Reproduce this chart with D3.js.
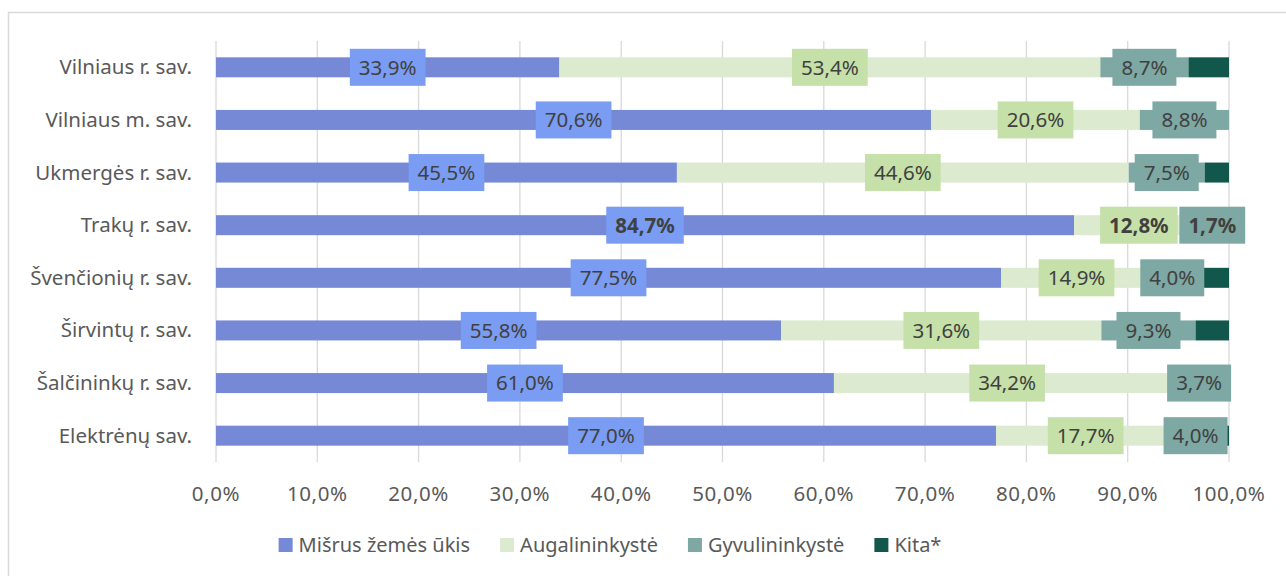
<!DOCTYPE html>
<html>
<head>
<meta charset="utf-8">
<script src="https://cdn.jsdelivr.net/npm/d3@7"></script>
<style>
  body { margin: 0; background: #fff; }
  svg text { font-family: "Noto Sans", sans-serif; }
</style>
</head>
<body>
<div id="chart"></div>
<script>
// categories and series (percent)
const categories = ['Vilniaus r. sav.', 'Vilniaus m. sav.', 'Ukmergės r. sav.', 'Trakų r. sav.',
    'Švenčionių r. sav.', 'Širvintų r. sav.', 'Šalčininkų r. sav.', 'Elektrėnų sav.'];
const seriesNames = ['Mišrus žemės ūkis', 'Augalininkystė', 'Gyvulininkystė', 'Kita*'];
const misrus = [33.9, 70.6, 45.5, 84.7, 77.5, 55.8, 61.0, 77.0];
const augal = [53.4, 20.6, 44.6, 12.8, 14.9, 31.6, 34.2, 17.7];
const gyvul = [8.7, 8.8, 7.5, 1.7, 4.0, 9.3, 3.7, 4.0];
const kita = [4.0, 0.0, 2.4, 0.8, 3.6, 3.3, 1.1, 1.3];
const boldRow = 'Trakų r. sav.';
const xTicks = [0, 10, 20, 30, 40, 50, 60, 70, 80, 90, 100];

const colors = ['#7589d6', '#dcebcf', '#7da8a3', '#12574b'];
const boxColors = ['#7a9cf2', '#c5e0a8', '#7da8a3', null];

const width = 1286, height = 576;
const svg = d3.select('#chart').append('svg')
    .attr('width', width)
    .attr('height', height);

// outer frame (only top and left edges fall inside the picture)
svg.append('rect')
    .attr('x', 8.5).attr('y', 12.5)
    .attr('width', 1300).attr('height', 600)
    .attr('fill', 'none')
    .attr('stroke', '#d9d9d9')
    .attr('stroke-width', 1.5);

const x = d3.scaleLinear().domain([0, 100]).range([216, 1229]);
const y = d3.scaleBand().domain(categories).range([41, 462]).paddingInner(0.62).paddingOuter(0.31);

// gridlines
svg.append('g')
    .selectAll('line')
    .data(xTicks)
    .join('line')
    .attr('x1', d => x(d)).attr('x2', d => x(d))
    .attr('y1', 41).attr('y2', 462)
    .attr('stroke', '#d9d9d9')
    .attr('stroke-width', 1.3);

// x tick labels
svg.append('g')
    .selectAll('text')
    .data(xTicks)
    .join('text')
    .attr('x', d => x(d))
    .attr('y', 501)
    .attr('text-anchor', 'middle')
    .attr('font-size', 20.5)
    .attr('letter-spacing', 0.6)
    .attr('fill', '#595959')
    .text(d => d.toFixed(1).replace('.', ',') + '%');

// category labels
svg.append('g')
    .selectAll('text')
    .data(categories)
    .join('text')
    .attr('x', 192)
    .attr('y', d => y(d) + y.bandwidth() / 2 + 7)
    .attr('text-anchor', 'end')
    .attr('font-size', 20.5)
    .attr('fill', '#595959')
    .text(d => d);

// stacked data
const rows = categories.map((c, i) => ({cat: c, v: [misrus[i], augal[i], gyvul[i], kita[i]]}));
const segs = [];
rows.forEach(r => {
    let acc = 0;
    r.v.forEach((v, k) => {
        segs.push({cat: r.cat, k: k, v: v, x0: acc, x1: acc + v});
        acc += v;
    });
});

svg.append('g')
    .selectAll('rect')
    .data(segs.filter(d => d.v > 0))
    .join('rect')
    .attr('x', d => x(d.x0))
    .attr('y', d => y(d.cat))
    .attr('width', d => x(d.x1) - x(d.x0))
    .attr('height', y.bandwidth())
    .attr('fill', d => colors[d.k]);

// data labels (no labels for Kita*)
const labels = svg.append('g')
    .selectAll('g')
    .data(segs.filter(d => d.k < 3))
    .join('g')
    .attr('transform', d => `translate(${x((d.x0 + d.x1) / 2)},${y(d.cat) + y.bandwidth() / 2})`);

labels.append('text')
    .attr('text-anchor', 'middle')
    .attr('dy', '0.36em')
    .attr('font-size', 20.5)
    .attr('font-weight', d => d.cat === boldRow ? 'bold' : 'normal')
    .attr('fill', '#404040')
    .text(d => d.v.toFixed(1).replace('.', ',') + '%')
    .each(function(d) { d.tw = this.getComputedTextLength(); });

labels.insert('rect', 'text')
    .attr('x', d => -d.tw / 2 - 9)
    .attr('y', -18.5)
    .attr('width', d => d.tw + 18)
    .attr('height', 37)
    .attr('fill', d => boxColors[d.k]);

// legend - laid out in a row, centred under the plot
const legend = svg.append('g');
const items = legend.selectAll('g')
    .data(seriesNames)
    .join('g');

items.append('rect')
    .attr('x', 0).attr('y', -7)
    .attr('width', 14).attr('height', 14)
    .attr('fill', (d, i) => colors[i]);

items.append('text')
    .attr('x', 20)
    .attr('dy', '0.36em')
    .attr('font-size', 20)
    .attr('fill', '#595959')
    .text(d => d);

let lx = 0;
items.each(function() {
    const w = this.getBBox().width;
    d3.select(this).attr('transform', `translate(${lx},0)`);
    lx += w + 30;
});
const legendW = lx - 30;
legend.attr('transform', `translate(${610 - legendW / 2},545)`);
</script>
</body>
</html>
